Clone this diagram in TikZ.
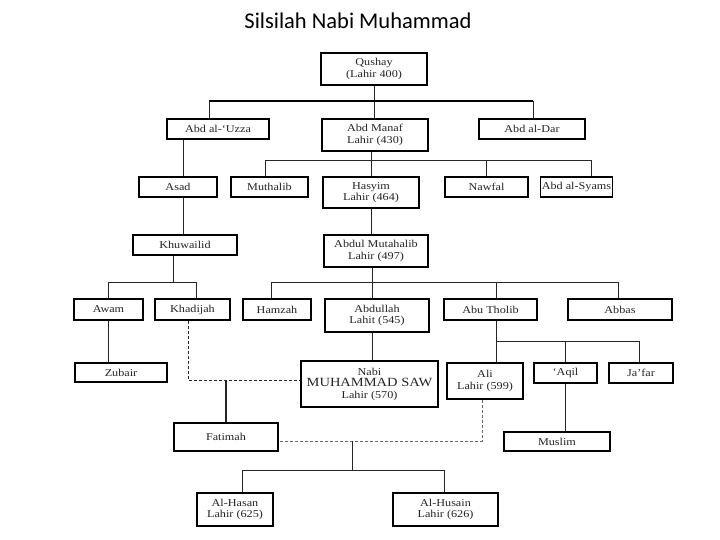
\documentclass[tikz,border=0pt]{standalone}
\usepackage{fontspec}
\setmainfont{Liberation Serif}[FakeStretch=1.16]
\newfontfamily\titlefont{Carlito}
\usetikzlibrary{calc}
\tikzset{
  box/.style={draw=black, line width=1.1pt, fill=white, align=center, inner sep=1pt,
    font=\fontsize{10.5}{11.5}\selectfont, text=black!85},
  heavy/.style={line width=2pt},
  link/.style={draw=black!85, line width=0.9pt},
  bigbus/.style={draw=black, line width=1.8pt},
  marriage/.style={draw=black!85, line width=0.9pt, dash pattern=on 3pt off 2pt},
  marriagegray/.style={draw=black!60, line width=0.9pt, dash pattern=on 3pt off 2pt},
}
\begin{document}
\begin{tikzpicture}[x=1pt,y=-1pt]
\useasboundingbox (0,0) rectangle (720,540);
\node[font=\titlefont\fontsize{22.5}{26}\selectfont, anchor=base] (title) at (358,28.3) {Silsilah Nabi Muhammad};

% boxes
\node[box, minimum width=106pt, minimum height=32pt] (qushay) at (374,69) {Qushay\\(Lahir 400)};
\node[box, minimum width=102pt, minimum height=20pt] (uzza) at (218,129) {Abd al-‘Uzza};
\node[box, heavy, minimum width=106pt, minimum height=32pt] (manaf) at (375,135) {Abd Manaf\\Lahir (430)};
\node[box, minimum width=106pt, minimum height=20pt] (dar) at (532,129) {Abd al-Dar};
\node[box, minimum width=78pt, minimum height=20pt] (asad) at (178,187) {Asad};
\node[box, minimum width=77pt, minimum height=20pt] (muthalib) at (269.5,187) {Muthalib};
\node[box, minimum width=96pt, minimum height=31pt] (hasyim) at (371,192.5) {Hasyim\\Lahir (464)};
\node[box, minimum width=83pt, minimum height=20pt] (nawfal) at (486.5,187) {Nawfal};
\node[box, minimum width=71pt, minimum height=20pt] (syams) at (576.5,187) {Abd al-Syams};
\node[box, minimum width=104pt, minimum height=20pt] (khuwailid) at (185,245) {Khuwailid};
\node[box, minimum width=104pt, minimum height=32pt] (mutahalib) at (376,251) {Abdul Mutahalib\\Lahir (497)};
\node[box, heavy, minimum width=69pt, minimum height=21pt] (awam) at (108.5,309.5) {Awam};
\node[box, heavy, minimum width=75pt, minimum height=21pt] (khadijah) at (192.5,309.5) {Khadijah};
\node[box, minimum width=68pt, minimum height=21pt] (hamzah) at (277,309.5) {Hamzah};
\node[box, minimum width=104pt, minimum height=33pt] (abdullah) at (377,315.5) {Abdullah\\Lahit (545)};
\node[box, minimum width=93pt, minimum height=21pt] (abutholib) at (490.5,309.5) {Abu Tholib};
\node[box, minimum width=104pt, minimum height=21pt] (abbas) at (620,309.5) {Abbas};
\node[box, heavy, minimum width=92pt, minimum height=19pt] (zubair) at (121,372.5) {Zubair};
\node[box, heavy, minimum width=137pt, minimum height=46pt] (nabi) at (369.5,384) {Nabi\\{\fontsize{12.5}{13.5}\selectfont MUHAMMAD SAW}\\Lahir (570)};
\node[box, minimum width=76pt, minimum height=36pt] (ali) at (485,381) {Ali\\Lahir (599)};
\node[box, minimum width=63pt, minimum height=20pt] (aqil) at (565.5,373) {‘Aqil};
\node[box, minimum width=64pt, minimum height=20pt] (jafar) at (641,373) {Ja’far};
\node[box, heavy, minimum width=106pt, minimum height=19pt] (muslim) at (557,441.5) {Muslim};
\node[box, minimum width=104pt, minimum height=28pt] (fatimah) at (226,437) {Fatimah};
\node[box, minimum width=76pt, minimum height=33pt] (hasan) at (235,509.5) {Al-Hasan\\Lahir (625)};
\node[box, heavy, minimum width=105pt, minimum height=33pt] (husain) at (445.5,509.5) {Al-Husain\\Lahir (626)};

% bus coordinates
\coordinate (b1a) at (209,101);
\coordinate (b1b) at (533,101);
\coordinate (b2a) at (265,160);
\coordinate (b2b) at (591,160);
\coordinate (b2n) at (486,160);
\coordinate (b3a) at (108,282);
\coordinate (b3b) at (196,282);
\coordinate (b3k) at (173,282);
\coordinate (b4a) at (271,282);
\coordinate (b4b) at (618,282);
\coordinate (b4t) at (496,282);
\coordinate (b5a) at (496,341);
\coordinate (b5b) at (639,341);
\coordinate (b6a) at (242,470);
\coordinate (b6b) at (444,470);
\coordinate (asadtop) at (183,177);
\coordinate (mutdown) at (372,267);

% level Qushay
\draw[link] (qushay.south) -- (qushay.south |- manaf.north);
\draw[bigbus] (b1a) -- (b1b);
\draw[link] (b1a) -- (b1a |- uzza.north);
\draw[link] (b1b) -- (b1b |- dar.north);

% Abd al-Uzza -> Asad
\draw[link] (asadtop |- uzza.south) -- (asadtop |- asad.north);

% Abd Manaf -> bus 2
\draw[link] (hasyim.north |- manaf.south) -- (hasyim.north);
\draw[link] (b2a) -- (b2b);
\draw[link] (b2a) -- (b2a |- muthalib.north);
\draw[link] (b2n) -- (b2n |- nawfal.north);
\draw[link] (b2b) -- (b2b |- syams.north);

% Asad -> Khuwailid, Hasyim -> Abdul Mutahalib
\draw[link] (asadtop |- asad.south) -- (asadtop |- khuwailid.north);
\draw[link] (hasyim.south) -- (hasyim.south |- mutahalib.north);

% Khuwailid -> bus 3
\draw[link] (b3k |- khuwailid.south) -- (b3k);
\draw[link] (b3a) -- (b3b);
\draw[link] (b3a) -- (b3a |- awam.north);
\draw[link] (b3b) -- (b3b |- khadijah.north);

% Abdul Mutahalib -> bus 4
\draw[link] (mutdown |- mutahalib.south) -- (mutdown |- b4a);
\draw[link] (b4a) -- (b4b);
\draw[link] (b4a) -- (b4a |- hamzah.north);
\draw[link] (mutdown |- b4a) -- (mutdown |- abdullah.north);
\draw[link] (b4t) -- (b4t |- abutholib.north);
\draw[link] (b4b) -- (b4b |- abbas.north);

% Awam -> Zubair, Abdullah -> Nabi
\draw[link] (b3a |- awam.south) -- (b3a |- zubair.north);
\draw[link] (mutdown |- abdullah.south) -- (mutdown |- nabi.north);

% Abu Tholib -> bus 5
\draw[link] (b5a |- abutholib.south) -- (b5a);
\draw[link] (b5a) -- (b5b);
\draw[link] (b5a) -- (b5a |- ali.north);
\draw[link] (aqil.north |- b5a) -- (aqil.north);
\draw[link] (b5b) -- (b5b |- jafar.north);
\draw[link] (aqil.south) -- (aqil.south |- muslim.north);

% marriages
\coordinate (kd) at (188,320);
\coordinate (m1) at (188,380);
\draw[marriage] (kd |- khadijah.south) -- (m1) -- (m1 -| nabi.west);
\draw[link, line width=1.4pt] (fatimah.north |- m1) -- (fatimah.north);
\coordinate (ad) at (482,399);
\coordinate (m2) at (278,441);
\draw[marriagegray] (ad |- ali.south) -- (ad |- m2) -- (m2 -| fatimah.east);
\coordinate (m3) at (352,441);
\draw[link] (m3) -- (m3 |- b6a);
\draw[link] (b6a) -- (b6b);
\draw[link] (b6a) -- (b6a |- hasan.north);
\draw[link] (b6b) -- (b6b |- husain.north);
\end{tikzpicture}
\end{document}
